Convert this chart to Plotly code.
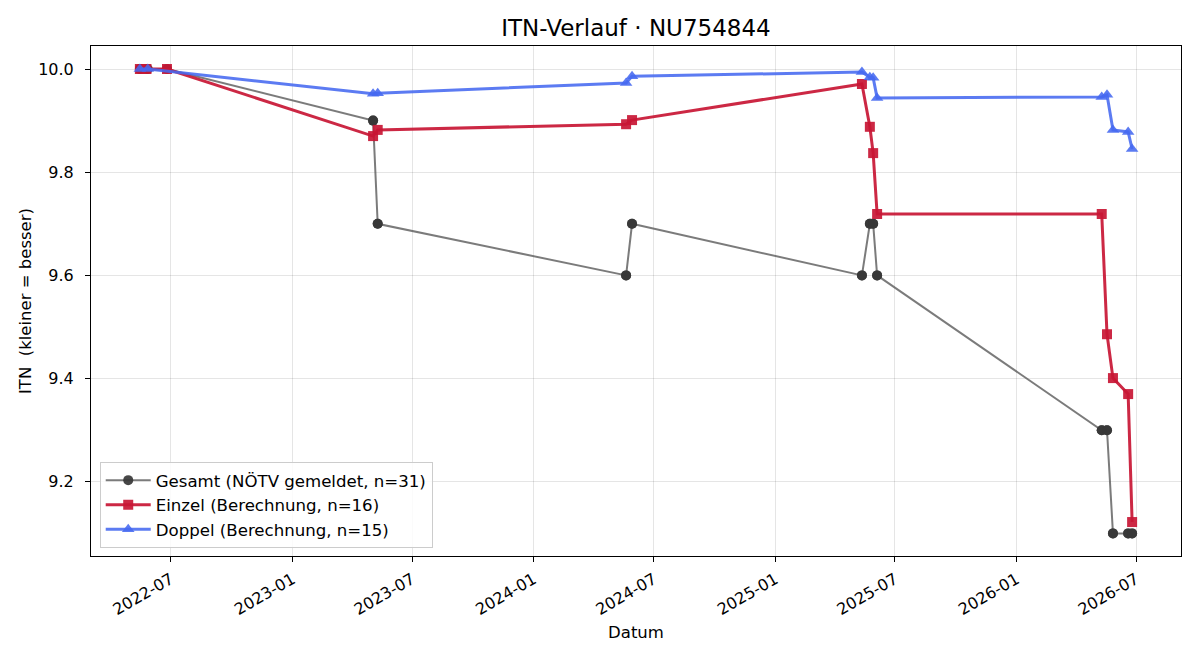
import plotly.graph_objects as go

# --- data ---
einzel_dates = ["2022-05-15", "2022-05-25", "2022-06-25", "2023-05-03", "2023-05-10",
                "2024-05-20", "2024-05-29", "2025-05-12", "2025-05-24", "2025-05-29",
                "2025-06-04", "2026-05-10", "2026-05-18", "2026-05-27", "2026-06-19",
                "2026-06-25"]
einzel_vals = [10.0, 10.0, 10.0, 9.870, 9.882, 9.893, 9.901, 9.971, 9.888, 9.837,
               9.719, 9.719, 9.486, 9.401, 9.370, 9.122]

doppel_dates = ["2022-05-15", "2022-05-27", "2023-05-03", "2023-05-10", "2024-05-20",
                "2024-05-29", "2025-05-12", "2025-05-24", "2025-05-29", "2025-06-04",
                "2026-05-10", "2026-05-18", "2026-05-27", "2026-06-19", "2026-06-25"]
doppel_vals = [10.0, 10.0, 9.952, 9.953, 9.973, 9.986, 9.994, 9.984, 9.983, 9.944,
               9.946, 9.950, 9.882, 9.878, 9.845]

gesamt_dates = ["2022-05-15", "2022-05-15", "2022-05-25", "2022-05-27", "2022-06-25",
                "2023-05-03", "2023-05-03", "2023-05-10", "2023-05-10",
                "2024-05-20", "2024-05-20", "2024-05-29", "2024-05-29",
                "2025-05-12", "2025-05-12", "2025-05-24", "2025-05-24",
                "2025-05-29", "2025-05-29", "2025-06-04", "2025-06-04",
                "2026-05-10", "2026-05-10", "2026-05-18", "2026-05-18",
                "2026-05-27", "2026-05-27", "2026-06-19", "2026-06-19",
                "2026-06-25", "2026-06-25"]
gesamt_vals = [10.0, 10.0, 10.0, 10.0, 10.0,
               9.9, 9.9, 9.7, 9.7,
               9.6, 9.6, 9.7, 9.7,
               9.6, 9.6, 9.7, 9.7,
               9.7, 9.7, 9.6, 9.6,
               9.3, 9.3, 9.3, 9.3,
               9.1, 9.1, 9.1, 9.1,
               9.1, 9.1]

fig = go.Figure()
fig.add_trace(go.Scatter(
    x=gesamt_dates, y=gesamt_vals, mode="lines+markers",
    name="Gesamt (NÖTV gemeldet, n=31)",
    line=dict(color="rgba(90,90,90,0.8)", width=2),
    marker=dict(symbol="circle", size=10, color="rgba(55,55,55,0.92)"),
))
fig.add_trace(go.Scatter(
    x=einzel_dates, y=einzel_vals, mode="lines+markers",
    name="Einzel (Berechnung, n=16)",
    line=dict(color="rgba(200,22,52,0.92)", width=3),
    marker=dict(symbol="square", size=10, color="rgba(200,22,52,0.92)"),
))
fig.add_trace(go.Scatter(
    x=doppel_dates, y=doppel_vals, mode="lines+markers",
    name="Doppel (Berechnung, n=15)",
    line=dict(color="rgba(70,105,240,0.88)", width=3),
    marker=dict(symbol="triangle-up", size=11, color="rgba(70,105,240,0.88)"),
))

axis_common = dict(
    showline=True, linecolor="black", linewidth=1, mirror=True,
    ticks="outside", ticklen=5, tickcolor="black",
    showgrid=True, gridcolor="rgba(0,0,0,0.1)", gridwidth=1,
    zeroline=False,
    tickfont=dict(family="DejaVu Sans", size=16, color="black"),
)

fig.update_layout(
    width=1200, height=660,
    paper_bgcolor="white", plot_bgcolor="white",
    margin=dict(l=91, r=19, t=46, b=104),
    title=dict(text="ITN-Verlauf · NU754844", xref="paper", x=0.5, xanchor="center",
               yref="container", y=1 - 28 / 660, yanchor="middle",
               font=dict(family="DejaVu Sans", size=23, color="black")),
    font=dict(family="DejaVu Sans", color="black"),
    xaxis=dict(
        **axis_common,
        type="date",
        range=["2022-03-02", "2026-09-07"],
        tick0="2022-07-01", dtick="M6", tickformat="%Y-%m",
        tickangle=-30,
        ticklabelstandoff=2,
        title=dict(text="Datum", font=dict(family="DejaVu Sans", size=16.5), standoff=8),
    ),
    yaxis=dict(
        **axis_common,
        range=[9.0562, 10.0446],
        tick0=9.2, dtick=0.2, tickformat=".1f",
        ticklabelstandoff=8,
        title=dict(text="ITN  (kleiner = besser)", font=dict(family="DejaVu Sans", size=16.5), standoff=2),
    ),
    legend=dict(
        x=0.008, y=0.016, xanchor="left", yanchor="bottom",
        bgcolor="rgba(255,255,255,0.85)", bordercolor="#cccccc", borderwidth=1,
        font=dict(family="DejaVu Sans", size=16.6, color="black"),
        tracegroupgap=0, itemwidth=45,
    ),
    showlegend=True,
)

fig.write_html("out.html")
